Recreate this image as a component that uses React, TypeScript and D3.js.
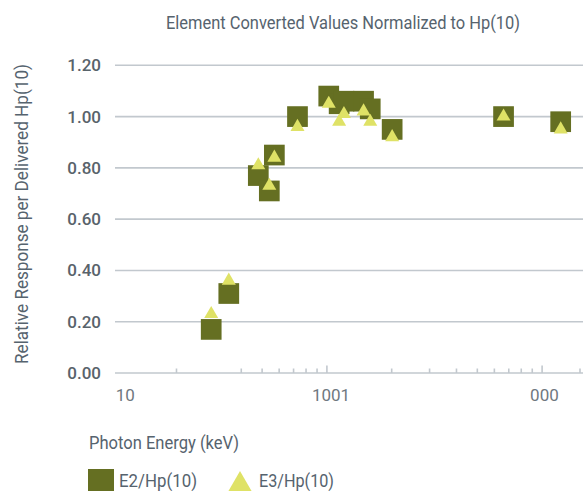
import { useEffect, useRef } from 'react'
import * as d3 from 'd3'

const energies = [29, 35, 48, 54, 57, 73, 102, 114, 120, 148, 159, 201, 662, 1220]
const e2Values = [0.17, 0.31, 0.77, 0.71, 0.85, 1.0, 1.08, 1.05, 1.06, 1.06, 1.03, 0.95, 1.0, 0.98]
const e3Values = [0.23, 0.36, 0.81, 0.73, 0.84, 0.96, 1.05, 0.98, 1.01, 1.02, 0.98, 0.92, 1.0, 0.95]
const yTicks = [0, 0.2, 0.4, 0.6, 0.8, 1.0, 1.2]
const minorTicks = [20, 40, 50, 60, 70, 80, 90, 200, 300, 400, 500, 600, 700, 800, 900, 1500]
const majorTicks = [100, 1000]
// labels as they appear on the original chart
const xLabels = [
  { value: 10, text: '10', dx: 4 },
  { value: 100, text: '1001', dx: -15 },
  { value: 1000, text: '000', dx: -12 }
]
const seriesNames = ['E2/Hp(10)', 'E3/Hp(10)']

const WIDTH = 583
const HEIGHT = 491
const SQUARE = '#656f22'
const TRIANGLE = '#dfe266'
const GRID = '#c2c8ce'
const TEXT = '#56636e'

function trianglePath(w: number) {
  const h = w * Math.sqrt(3) / 2
  return `M0,${-2 * h / 3}L${w / 2},${h / 3}L${-w / 2},${h / 3}Z`
}

export default function App() {
  const svgRef = useRef<SVGSVGElement>(null)

  useEffect(() => {
    if (!svgRef.current) return
    const svg = d3.select(svgRef.current)
    svg.selectAll('*').remove()

    const x = d3.scaleLog().domain([10, 1500]).range([111.7, 580])
    const y = d3.scaleLinear().domain([0, 1.2]).range([373, 65.3])
    const left = 115
    const right = WIDTH

    // Title
    svg.append('text')
      .attr('x', 166).attr('y', 29)
      .attr('textLength', 354).attr('lengthAdjust', 'spacingAndGlyphs')
      .style('font-family', 'Roboto, sans-serif').style('font-size', '18px')
      .style('fill', TEXT)
      .text('Element Converted Values Normalized to Hp(10)')

    // Gridlines
    svg.append('g').selectAll('line')
      .data(yTicks)
      .enter().append('line')
      .attr('x1', left).attr('x2', right)
      .attr('y1', d => y(d)).attr('y2', d => y(d))
      .attr('stroke', GRID).attr('stroke-width', 1.6)

    // y tick labels
    svg.append('g').selectAll('text')
      .data(yTicks)
      .enter().append('text')
      .attr('x', 101).attr('y', d => y(d))
      .attr('dy', '0.35em')
      .attr('text-anchor', 'end')
      .style('font-family', 'Roboto, sans-serif').style('font-size', '17px')
      .style('font-weight', '500')
      .style('fill', '#59636b')
      .text(d => d.toFixed(2))

    // x ticks
    svg.append('g').selectAll('line')
      .data(minorTicks)
      .enter().append('line')
      .attr('x1', d => x(d)).attr('x2', d => x(d))
      .attr('y1', y(0) - 4.5).attr('y2', y(0))
      .attr('stroke', GRID).attr('stroke-width', 1.6)
    svg.append('g').selectAll('line')
      .data(majorTicks)
      .enter().append('line')
      .attr('x1', d => x(d)).attr('x2', d => x(d))
      .attr('y1', y(0) - 7.5).attr('y2', y(0))
      .attr('stroke', GRID).attr('stroke-width', 1.6)

    svg.append('g').selectAll('text')
      .data(xLabels)
      .enter().append('text')
      .attr('x', d => x(d.value) + d.dx).attr('y', 401)
      .style('font-family', 'Roboto, sans-serif').style('font-size', '17px')
      .style('fill', '#6f7880')
      .text(d => d.text)

    // Axis titles
    svg.append('text')
      .attr('transform', 'translate(28,214) rotate(-90)')
      .attr('text-anchor', 'middle')
      .attr('textLength', 300).attr('lengthAdjust', 'spacingAndGlyphs')
      .style('font-family', 'Roboto, sans-serif').style('font-size', '19px')
      .style('fill', TEXT)
      .text('Relative Response per Delivered Hp(10)')

    svg.append('text')
      .attr('x', 89).attr('y', 449)
      .attr('textLength', 150).attr('lengthAdjust', 'spacingAndGlyphs')
      .style('font-family', 'Roboto, sans-serif').style('font-size', '19px')
      .style('fill', TEXT)
      .text('Photon Energy (keV)')

    // Markers: squares first, triangles on top
    const sq = 20.7
    svg.append('g').selectAll('rect')
      .data(energies)
      .enter().append('rect')
      .attr('x', d => x(d) - sq / 2)
      .attr('y', (_, i) => y(e2Values[i]) - sq / 2)
      .attr('width', sq).attr('height', sq)
      .attr('fill', SQUARE)

    svg.append('g').selectAll('path')
      .data(energies)
      .enter().append('path')
      .attr('transform', (d, i) => `translate(${x(d)},${y(e3Values[i])})`)
      .attr('d', trianglePath(14))
      .attr('fill', TRIANGLE)

    // Legend
    const legend = svg.append('g')
    legend.append('rect')
      .attr('x', 88).attr('y', 469).attr('width', 26).attr('height', 26)
      .attr('fill', SQUARE)
    legend.append('text')
      .attr('x', 119).attr('y', 487)
      .attr('textLength', 78).attr('lengthAdjust', 'spacingAndGlyphs')
      .style('font-family', 'Roboto, sans-serif').style('font-size', '19px')
      .style('fill', TEXT)
      .text(seriesNames[0])
    legend.append('path')
      .attr('transform', `translate(240,${471 + 24 * Math.sqrt(3) / 3})`)
      .attr('d', trianglePath(24))
      .attr('fill', TRIANGLE)
    legend.append('text')
      .attr('x', 259).attr('y', 487)
      .attr('textLength', 75).attr('lengthAdjust', 'spacingAndGlyphs')
      .style('font-family', 'Roboto, sans-serif').style('font-size', '19px')
      .style('fill', TEXT)
      .text(seriesNames[1])
  }, [])

  return (
    <div style={{ position: 'absolute', left: 0, top: 0 }}>
      <svg ref={svgRef} width={WIDTH} height={HEIGHT} style={{ display: 'block' }} />
    </div>
  )
}
